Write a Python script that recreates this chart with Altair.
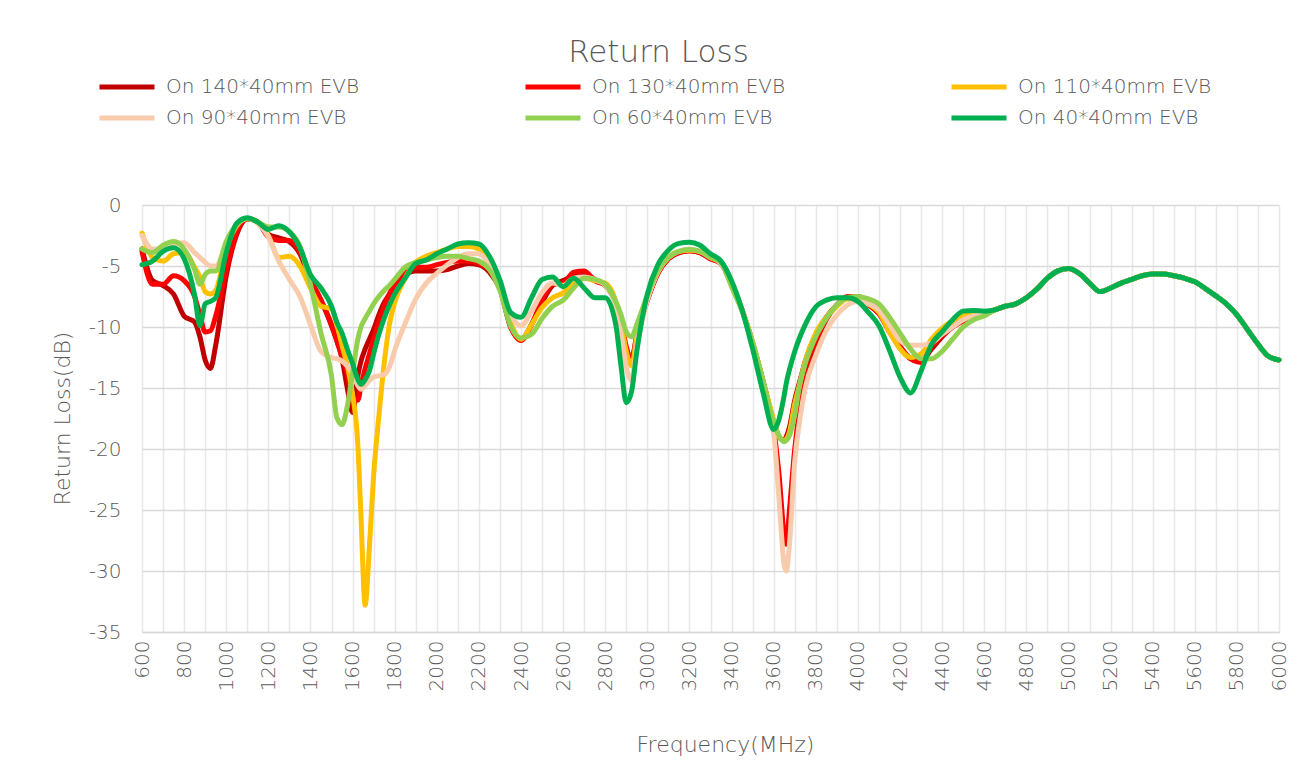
import altair as alt
import pandas as pd

# ---------------- data ----------------
FREQ = [
    600, 650, 700, 750, 800, 850, 875, 900, 925, 950,
    1000, 1050, 1100, 1150, 1200, 1250, 1300, 1350, 1400, 1450, 1500,
    1525, 1550, 1575, 1600, 1625, 1640, 1660, 1680, 1700, 1725, 1750, 1775, 1800,
    1850, 1900, 1950, 2000, 2050, 2100, 2150, 2200, 2250, 2300, 2350, 2400, 2450,
    2500, 2550, 2600, 2650, 2700, 2750, 2800, 2850,
    2875, 2900, 2925, 2950,
    3000, 3050, 3100, 3150, 3200, 3250, 3300, 3350, 3400, 3450, 3500, 3550, 3600,
    3625, 3650, 3660, 3675, 3700, 3725, 3750,
    3800, 3850, 3900, 3950, 4000, 4050, 4100, 4150, 4200, 4250, 4300, 4350, 4400,
    4450, 4500, 4550, 4600,
]

# above 4600 MHz all six curves coincide
FREQ_TAIL = [
    4650, 4700, 4750, 4800, 4850, 4900, 4950, 5000,
    5050, 5100, 5150, 5200, 5250, 5300, 5350, 5400, 5450, 5500,
    5550, 5600, 5650, 5700, 5750, 5800, 5850, 5900, 5950, 6000,
]
RL_TAIL = [
    -8.6, -8.3, -8.1, -7.6, -6.9, -6.0, -5.4, -5.2,
    -5.6, -6.4, -7.1, -6.8, -6.4, -6.1, -5.8, -5.65, -5.65, -5.8,
    -6.0, -6.3, -6.85, -7.45, -8.1, -9.0, -10.2, -11.4, -12.4, -12.7,
]

RL_140 = [
    -3.6, -6.2, -6.6, -7.3, -9.1, -9.6, -10.8, -12.7, -13.4, -11.5,
    -5.8, -2.4, -1.15, -1.4, -2.4, -2.7, -3.0, -4.0, -6.2, -7.8, -9.9,
    -11.1, -12.6, -15.0, -17.0, -14.0, -12.8, -11.8, -11.0, -10.2, -9.0, -8.0, -7.3, -6.5,
    -5.7, -5.4, -5.4, -5.4, -5.3, -5.0, -4.8, -4.9, -5.5, -6.9, -10.0, -11.0, -9.8,
    -8.0, -6.6, -6.2, -5.8, -5.6, -6.1, -6.6, -8.1,
    -9.8, -11.8, -12.6, -10.8,
    -7.8, -5.6, -4.4, -3.9, -3.75, -3.9, -4.4, -4.8, -6.5, -8.6, -11.3, -14.5, -17.8,
    -19.0, -19.3, -19.0, -18.2, -16.0, -14.4, -12.8,
    -10.6, -9.2, -8.2, -7.6, -7.5, -8.1, -8.9, -10.2, -11.6, -12.6, -12.8, -11.8, -10.8,
    -10.0, -9.5, -9.2, -9.0,
]
RL_130 = [
    -3.8, -6.5, -6.5, -5.8, -6.2, -7.5, -9.0, -10.4, -10.3, -9.1,
    -5.3, -2.2, -1.1, -1.4, -2.6, -2.9, -2.9, -3.8, -6.0, -7.8, -9.8,
    -11.1, -12.4, -13.8, -15.8, -16.0, -14.8, -13.4, -12.2, -11.0, -9.6, -8.3, -7.3, -6.5,
    -5.6, -5.1, -5.1, -4.9, -4.7, -4.6, -4.6, -4.8, -5.3, -6.7, -9.9, -11.1, -9.8,
    -7.8, -6.5, -6.4, -5.5, -5.4, -6.2, -6.6, -8.0,
    -9.6, -11.6, -12.8, -10.6,
    -7.8, -5.6, -4.4, -3.9, -3.75, -3.9, -4.4, -4.8, -6.5, -8.6, -11.3, -14.5, -18.3,
    -22.0, -27.0, -27.8, -25.0, -20.0, -16.6, -14.2,
    -11.4, -9.4, -8.2, -7.5, -7.6, -8.2, -8.9, -10.4, -11.6, -12.6, -12.9, -11.6, -10.7,
    -10.0, -9.5, -9.2, -9.0,
]
RL_110 = [
    -2.3, -4.3, -4.6, -4.0, -3.9, -5.1, -5.9, -7.1, -7.3, -7.0,
    -3.6, -1.7, -1.1, -1.4, -2.5, -4.3, -4.2, -5.0, -6.8, -8.3, -8.5,
    -9.8, -11.5, -13.2, -15.5, -19.6, -25.5, -32.8, -28.0, -22.2, -17.3, -13.0, -9.8, -8.0,
    -6.0, -4.7, -4.2, -3.9, -3.6, -3.4, -3.4, -3.6, -4.4, -6.6, -9.6, -11.0, -9.8,
    -8.4, -7.6, -7.2, -6.4, -6.0, -6.2, -6.4, -7.9,
    -9.7, -12.0, -13.2, -10.8,
    -7.6, -5.4, -4.3, -3.8, -3.7, -3.8, -4.3, -4.7, -6.6, -8.6, -11.3, -14.5, -17.6,
    -19.0, -19.3, -19.2, -18.6, -16.3, -14.6, -12.8,
    -10.5, -9.2, -8.3, -7.7, -7.8, -8.1, -8.8, -10.4, -11.8, -12.5, -12.2, -11.0, -10.1,
    -9.5, -9.1, -8.9, -8.9,
]
RL_90 = [
    -2.5, -3.6, -3.6, -3.2, -3.1, -3.9, -4.3, -4.7, -5.0, -5.0,
    -3.2, -1.6, -1.1, -1.5, -2.6, -4.6, -6.1, -7.5, -9.8, -12.0, -12.5,
    -12.6, -12.8, -13.2, -13.8, -14.8, -15.1, -14.8, -14.4, -14.1, -14.0, -13.9, -13.3, -11.9,
    -9.7, -7.7, -6.4, -5.6, -4.9, -4.3, -4.0, -4.0, -4.9, -6.2, -8.9, -9.9, -8.7,
    -7.2, -6.4, -6.6, -6.0, -5.9, -6.1, -6.6, -8.3,
    -10.5, -13.3, -14.4, -11.5,
    -7.8, -5.5, -4.3, -3.8, -3.6, -3.8, -4.3, -4.8, -6.5, -8.6, -11.3, -14.8, -18.6,
    -24.0, -29.5, -30.0, -27.8, -21.0, -17.5, -15.0,
    -12.3, -10.3, -9.0, -8.2, -7.9, -8.1, -8.6, -9.8, -11.1, -11.5, -11.5, -11.3, -10.6,
    -10.0, -9.4, -9.1, -9.0,
]
RL_60 = [
    -3.6, -3.9, -3.3, -3.0, -3.6, -5.3, -6.5, -5.7, -5.4, -5.4,
    -3.0, -1.6, -1.1, -1.4, -1.8, -1.8, -2.2, -3.4, -6.5, -10.5, -14.0,
    -17.4, -18.0, -16.5, -13.8, -11.0, -10.0, -9.3, -8.7, -8.1, -7.5, -7.0, -6.6, -6.1,
    -5.1, -4.7, -4.5, -4.3, -4.2, -4.2, -4.4, -4.6, -5.3, -7.0, -9.9, -10.9, -10.6,
    -9.3, -8.3, -7.8, -6.8, -6.0, -6.1, -6.5, -7.9,
    -9.0, -10.4, -10.8, -9.8,
    -7.4, -5.4, -4.3, -3.8, -3.65, -3.8, -4.3, -4.7, -6.7, -8.7, -11.2, -14.4, -17.8,
    -18.9, -19.4, -19.3, -18.9, -17.2, -14.6, -13.0,
    -10.8, -9.3, -8.2, -7.6, -7.5, -7.7, -8.1, -9.2, -10.5, -11.8, -12.6, -12.6, -12.0,
    -11.0, -10.0, -9.4, -9.1,
]
RL_40 = [
    -4.9, -4.6, -3.8, -3.5, -4.4, -7.4, -9.9, -8.1, -7.9, -7.6,
    -3.9, -1.5, -1.05, -1.4, -2.0, -1.7, -2.2, -3.5, -5.7, -6.8, -8.3,
    -9.6, -10.5, -11.8, -13.0, -14.3, -14.7, -14.3, -13.6, -12.2, -10.6, -9.3, -8.2, -7.3,
    -6.0, -4.8, -4.5, -4.0, -3.6, -3.2, -3.1, -3.2, -4.2, -6.15, -8.8, -9.2, -7.6,
    -6.1, -5.9, -6.7, -6.0, -6.8, -7.6, -7.6, -9.8,
    -13.2, -16.2, -15.3, -12.0,
    -7.3, -4.9, -3.7, -3.15, -3.05, -3.3, -4.0, -4.6, -6.2, -8.6, -11.8, -15.4, -18.4,
    -17.6, -15.6, -14.6, -13.5, -12.0, -10.8, -9.8,
    -8.35, -7.8, -7.6, -7.6, -7.9, -8.8, -9.9, -11.9, -14.1, -15.4, -13.6, -11.4, -10.4,
    -9.4, -8.7, -8.65, -8.7,
]

SERIES = [
    "On 140*40mm EVB", "On 130*40mm EVB", "On 110*40mm EVB",
    "On 90*40mm EVB", "On 60*40mm EVB", "On 40*40mm EVB",
]
COLORS = ["#C00000", "#FF0000", "#FFC000", "#F8CBAD", "#92D050", "#00B050"]
VALUES = [RL_140, RL_130, RL_110, RL_90, RL_60, RL_40]

Y_TICKS = [0, -5, -10, -15, -20, -25, -30, -35]
X_TICKS = list(range(600, 6001, 100))

rows = []
for name, vals in zip(SERIES, VALUES):
    for f, v in zip(FREQ + FREQ_TAIL, vals + RL_TAIL):
        rows.append({"series": name, "freq": f, "rl": v})
df = pd.DataFrame(rows)

FONT = "DejaVu Sans"
TXT = "#595959"

chart = alt.Chart(df).mark_line(
    strokeWidth=5, interpolate="monotone", strokeCap="round", strokeJoin="round"
).encode(
    x=alt.X(
        "freq:Q",
        scale=alt.Scale(domain=[600, 6000], nice=False, zero=False),
        axis=alt.Axis(
            values=X_TICKS,
            labelExpr="datum.value % 200 == 0 ? '' + datum.value : ''",
            labelAngle=-90, labelFontSize=20, labelFont=FONT, labelColor=TXT,
            labelPadding=8, labelFontWeight=300,
            ticks=False, grid=True, gridColor="#e8e8e8", gridWidth=1.5,
            domainColor="#d9d9d9", domainWidth=1.5,
            title="Frequency(MHz)", titleFont=FONT, titleFontSize=22,
            titleFontWeight=300, titleColor=TXT,
            titleX=583, titleY=112, titleBaseline="middle", titleAlign="center",
        ),
    ),
    y=alt.Y(
        "rl:Q",
        scale=alt.Scale(domain=[-35, 0], nice=False, zero=False),
        axis=alt.Axis(
            values=Y_TICKS,
            labelExpr="datum.value == 0 ? '0' : '-' + abs(datum.value)",
            labelFontSize=20, labelFont=FONT, labelColor=TXT, labelPadding=21,
            labelFontWeight=300,
            ticks=False, grid=True, gridColor="#d9d9d9", gridWidth=1.5,
            domain=False,
            title="Return Loss(dB)", titleFont=FONT, titleFontSize=22,
            titleFontWeight=300, titleColor=TXT,
            titleX=-80, titleY=213, titleBaseline="middle", titleAlign="center",
            titleAngle=270,
        ),
    ),
    color=alt.Color(
        "series:N",
        sort=SERIES,
        scale=alt.Scale(domain=SERIES, range=COLORS),
        legend=alt.Legend(
            title=None, orient="none", legendX=-45, legendY=-129,
            direction="horizontal",
            columns=3, columnPadding=163, rowPadding=9, gridAlign="all",
            clipHeight=22,
            symbolType="stroke", symbolSize=3025, symbolStrokeWidth=5,
            labelFont=FONT, labelFontSize=20, labelColor=TXT, labelFontWeight=300,
            labelOffset=9, labelLimit=400,
        ),
    ),
).properties(
    width=1137,
    height=427,
    title=alt.TitleParams(
        "Return Loss", font=FONT, fontSize=31, fontWeight=300, color=TXT,
        anchor="middle", frame="group", dx=-52, dy=-3,
    ),
    autosize=alt.AutoSizeParams(type="none"),
    padding={"left": 134, "top": 197, "right": 23, "bottom": 127},
).configure_view(strokeWidth=0)

chart.save("out.html", embed_options={"renderer": "svg", "actions": False})
